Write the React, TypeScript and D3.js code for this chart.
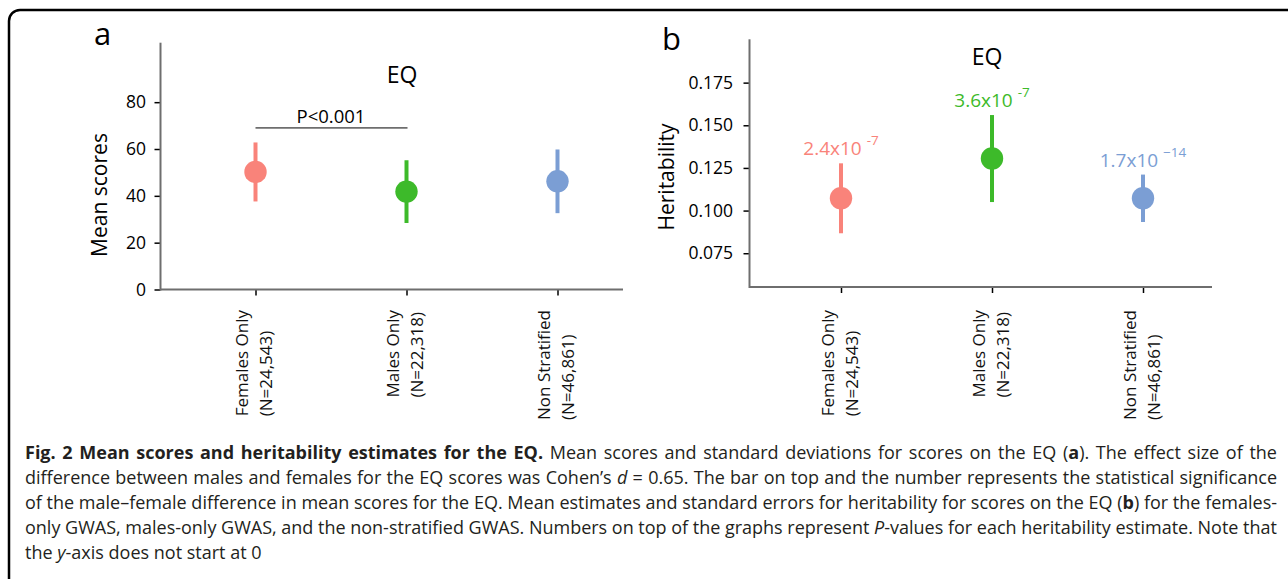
import React, { useEffect, useRef } from 'react';
import * as d3 from 'd3';

const WIDTH = 1288;
const HEIGHT = 579;
const FONT = '"Open Sans", "Noto Sans", sans-serif';

const categories = ['Females Only', 'Males Only', 'Non Stratified'];
const sampleSizes = ['(N=24,543)', '(N=22,318)', '(N=46,861)'];
const groupColors = ['#F9837A', '#3DBA2A', '#7B9ED4'];

// panel a: mean scores with SD
const meanScores = [50.2, 41.8, 46.2];
const meanSD = [12.6, 13.4, 13.6];
const meanTicks = [0, 20, 40, 60, 80];
const sigLevel = 69;
const sigLabel = 'P<0.001';

// panel b: heritability with SE
const heritability = [0.1072, 0.1305, 0.1072];
const heritabilitySE = [0.0205, 0.0255, 0.0139];
const heritTicks = [0.075, 0.1, 0.125, 0.15, 0.175];
const pBase = ['2.4x10', '3.6x10', '1.7x10'];
const pExp = ['-7', '-7', '\u221214'];

type Seg = { t: string; b?: boolean; i?: boolean };
const captionLines: Seg[][] = [
  [
    { t: 'Fig. 2 Mean scores and heritability estimates for the EQ.', b: true },
    { t: ' Mean scores and standard deviations for scores on the EQ (' },
    { t: 'a', b: true },
    { t: '). The effect size of the' },
  ],
  [
    { t: 'difference between males and females for the EQ scores was Cohen\u2019s ' },
    { t: 'd', i: true },
    { t: ' = 0.65. The bar on top and the number represents the statistical significance' },
  ],
  [
    { t: 'of the male\u2013female difference in mean scores for the EQ. Mean estimates and standard errors for heritability for scores on the EQ (' },
    { t: 'b', b: true },
    { t: ') for the females-' },
  ],
  [
    { t: 'only GWAS, males-only GWAS, and the non-stratified GWAS. Numbers on top of the graphs represent ' },
    { t: 'P', i: true },
    { t: '-values for each heritability estimate. Note that' },
  ],
  [{ t: 'the ' }, { t: 'y', i: true }, { t: '-axis does not start at 0' }],
];

const PANEL_A = {
  axisX: 160.5, top: 42.7, bottom: 289.5, right: 623, x0: 255.5, x1: 557.5,
  domain: [0, 105.4], ticks: meanTicks, fmt: d3.format('d'), labelEnd: 146,
  letter: 'a', letterX: 94, letterY: 45, titleX: 402, titleY: 82.7,
  yLabel: 'Mean scores', yLabelX: 107, yLabelY: 195,
};
const PANEL_B = {
  axisX: 749.5, top: 39.3, bottom: 287, right: 1212, x0: 841, x1: 1143,
  domain: [0.0552, 0.2004], ticks: heritTicks, fmt: d3.format('.3f'), labelEnd: 733,
  letter: 'b', letterX: 662, letterY: 50, titleX: 987, titleY: 65,
  yLabel: 'Heritability', yLabelX: 674, yLabelY: 177,
};

const LABEL_TOP = 310;

function drawPanel(svg: any, p: any, values: number[], errs: number[]) {
  const x = d3.scalePoint<string>().domain(categories).range([p.x0, p.x1]);
  const y = d3.scaleLinear().domain(p.domain).range([p.bottom, p.top]);

  // y axis ticks + labels
  const yAxis = d3
    .axisLeft(y)
    .tickValues(p.ticks)
    .tickSize(6)
    .tickPadding(p.axisX - 6 - p.labelEnd)
    .tickFormat((d: any) => p.fmt(d));
  const gy = svg.append('g').attr('transform', `translate(${p.axisX},0)`).call(yAxis);
  gy.select('.domain').remove();
  gy.attr('font-family', FONT).attr('font-size', 17.5);
  gy.selectAll('.tick line').attr('stroke', '#000').attr('stroke-width', 1.5);
  gy.selectAll('.tick text').attr('fill', '#000');

  // x axis ticks
  const xAxis = d3.axisBottom(x).tickSize(6).tickFormat(() => '');
  const gx = svg.append('g').attr('transform', `translate(0,${p.bottom})`).call(xAxis);
  gx.select('.domain').remove();
  gx.selectAll('.tick line').attr('stroke', '#000').attr('stroke-width', 1.5);

  // axis lines (grey)
  svg.append('line')
    .attr('x1', p.axisX).attr('x2', p.axisX).attr('y1', p.top).attr('y2', p.bottom + 1)
    .attr('stroke', '#6e6e6e').attr('stroke-width', 2);
  svg.append('line')
    .attr('x1', p.axisX).attr('x2', p.right).attr('y1', p.bottom).attr('y2', p.bottom)
    .attr('stroke', '#6e6e6e').attr('stroke-width', 2);

  // category labels, rotated, lines left-aligned, blocks top-aligned
  categories.forEach((c, i) => {
    const cx = x(c)!;
    const lines = [c, sampleSizes[i]];
    const texts = lines.map((t) =>
      svg.append('text').attr('font-family', FONT).attr('font-size', 17).attr('fill', '#111').text(t)
    );
    const maxW = d3.max(texts, (t: any) => t.node().getComputedTextLength()) as number;
    texts.forEach((t: any, j: number) =>
      t.attr('transform', `translate(${cx - 7.5 + j * 24},${LABEL_TOP + maxW}) rotate(-90)`)
    );
  });

  // error bars + points
  categories.forEach((c, i) => {
    svg.append('line')
      .attr('x1', x(c)).attr('x2', x(c))
      .attr('y1', y(values[i] - errs[i])).attr('y2', y(values[i] + errs[i]))
      .attr('stroke', groupColors[i]).attr('stroke-width', 4);
    svg.append('circle')
      .attr('cx', x(c)).attr('cy', y(values[i])).attr('r', 11.2)
      .attr('fill', groupColors[i]);
  });

  // panel letter, title, y label
  svg.append('text').attr('x', p.letterX).attr('y', p.letterY)
    .attr('font-family', FONT).attr('font-size', 31).attr('fill', '#000').text(p.letter);
  svg.append('text').attr('x', p.titleX).attr('y', p.titleY).attr('text-anchor', 'middle')
    .attr('font-family', FONT).attr('font-size', 23).attr('fill', '#000').text('EQ');
  svg.append('text')
    .attr('transform', `translate(${p.yLabelX},${p.yLabelY}) rotate(-90)`)
    .attr('text-anchor', 'middle')
    .attr('font-family', FONT).attr('font-size', 21).attr('fill', '#000').text(p.yLabel);

  return { x, y };
}

export default function App() {
  const ref = useRef<SVGSVGElement>(null);

  useEffect(() => {
    if (!ref.current) return;
    const svg = d3.select(ref.current);
    svg.selectAll('*').remove();

    svg.append('rect').attr('width', WIDTH).attr('height', HEIGHT).attr('fill', '#fff');
    // rounded frame
    svg.append('rect')
      .attr('x', 9).attr('y', 10).attr('width', 1290).attr('height', 700).attr('rx', 11)
      .attr('fill', 'none').attr('stroke', '#000').attr('stroke-width', 2.5);

    const a = drawPanel(svg, PANEL_A, meanScores, meanSD);
    // significance bar
    const sy = a.y(sigLevel);
    svg.append('line')
      .attr('x1', a.x(categories[0])).attr('x2', a.x(categories[1]) + 1)
      .attr('y1', sy).attr('y2', sy)
      .attr('stroke', '#6e6e6e').attr('stroke-width', 1.8);
    svg.append('text')
      .attr('x', ((a.x(categories[0]) as number) + (a.x(categories[1]) as number)) / 2)
      .attr('y', sy - 5)
      .attr('text-anchor', 'middle')
      .attr('font-family', FONT).attr('font-size', 18.5).attr('fill', '#000')
      .text(sigLabel);

    const b = drawPanel(svg, PANEL_B, heritability, heritabilitySE);
    categories.forEach((c, i) => {
      const t = svg.append('text')
        .attr('x', b.x(c)).attr('y', b.y(heritability[i] + heritabilitySE[i]) - 8)
        .attr('text-anchor', 'middle')
        .attr('font-family', FONT).attr('fill', groupColors[i])
        .style('white-space', 'pre');
      t.append('tspan').attr('font-size', 19).text(pBase[i] + ' ');
      t.append('tspan').attr('font-size', 13.5).attr('dy', -10).text(pExp[i]);
    });

    // caption, justified
    captionLines.forEach((segs, i) => {
      const t = svg.append('text')
        .attr('x', 25).attr('y', 459 + i * 25)
        .attr('font-family', FONT).attr('font-size', 18).attr('fill', '#231f20')
        .style('white-space', 'pre');
      segs.forEach((s) =>
        t.append('tspan')
          .attr('font-weight', s.b ? 700 : 400)
          .attr('font-style', s.i ? 'italic' : 'normal')
          .text(s.t)
      );
      if (i < captionLines.length - 1) {
        const w = (t.node() as SVGTextElement).getComputedTextLength();
        const spaces = segs.map((s) => s.t).join('').split(' ').length - 1;
        t.attr('word-spacing', (1277 - 25 - w) / spaces);
      }
    });
  }, []);

  return (
    <svg
      ref={ref}
      width={WIDTH}
      height={HEIGHT}
      style={{ position: 'absolute', left: 0, top: 0 }}
    />
  );
}
